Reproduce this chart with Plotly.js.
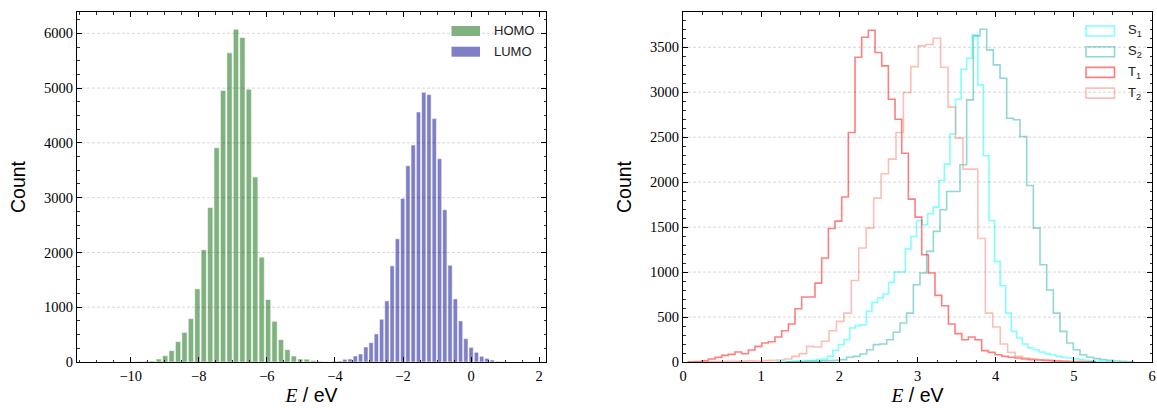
<!DOCTYPE html>
<html>
<head>
<meta charset="utf-8">
<script src="https://cdn.plot.ly/plotly-3.0.1.min.js"></script>
<style>
  html, body { margin: 0; padding: 0; background: #fff; }
  #chart { width: 1157px; height: 408px; }
</style>
</head>
<body>
<div id="chart"></div>
<script>
// ---- Frontier orbital energies (bin centres in eV, counts) ----
const homoE = [-9.934, -9.745, -9.556, -9.367, -9.178, -8.989, -8.800, -8.611, -8.422, -8.233,
  -8.044, -7.855, -7.666, -7.477, -7.288, -7.099, -6.910, -6.721, -6.532, -6.343,
  -6.154, -5.965, -5.776, -5.587, -5.398, -5.209, -5.020, -4.831, -4.642, -4.453, -4.264];
const homoCount = [4, 10, 12, 18, 55, 116, 207, 372, 542, 792,
  1335, 2048, 2822, 3912, 4955, 5643, 6076, 5923, 4979, 3376,
  1913, 1140, 743, 408, 225, 110, 55, 52, 28, 14, 6];

const lumoE = [-4.022, -3.867, -3.712, -3.558, -3.403, -3.249, -3.094, -2.939, -2.785, -2.630,
  -2.475, -2.321, -2.166, -2.011, -1.857, -1.702, -1.547, -1.392, -1.238, -1.083,
  -0.928, -0.774, -0.619, -0.464, -0.310, -0.155, 0.000, 0.155, 0.310, 0.464,
  0.619, 0.774, 0.928];
const lumoCount = [12, 18, 49, 55, 110, 146, 274, 353, 512, 780,
  1115, 1755, 2249, 2986, 3583, 3961, 4564, 4924, 4881, 4443,
  3711, 2779, 1767, 1152, 750, 427, 268, 177, 104, 67,
  37, 12, 6];

// ---- Excited-state energies (bin edges in eV, counts per bin) ----
const s1Edges = [1.205, 1.276, 1.347, 1.419, 1.490, 1.561, 1.633, 1.704, 1.775, 1.847,
  1.918, 1.989, 2.061, 2.132, 2.203, 2.274, 2.346, 2.417, 2.488, 2.560,
  2.631, 2.702, 2.774, 2.845, 2.916, 2.987, 3.059, 3.130, 3.201, 3.273,
  3.344, 3.415, 3.487, 3.558, 3.629, 3.700, 3.772, 3.843, 3.914, 3.986,
  4.057, 4.128, 4.200, 4.271, 4.342, 4.413, 4.485, 4.556, 4.627, 4.699,
  4.770, 4.841, 4.912, 4.984, 5.055, 5.126, 5.198, 5.269, 5.340, 5.411, 5.483];
const s1Count = [3, 4, 6, 8, 11, 15, 18, 26, 33, 63,
  130, 193, 248, 378, 404, 415, 563, 663, 711, 756,
  885, 1000, 1000, 1256, 1396, 1574, 1526, 1648, 1722, 2019,
  2200, 2537, 2922, 3256, 3378, 3637, 3082, 2293, 1574, 1119,
  848, 544, 341, 267, 200, 156, 137, 111, 93, 81,
  63, 52, 44, 33, 26, 18, 12, 8, 5, 3];

const s2Edges = [1.326, 1.411, 1.497, 1.582, 1.667, 1.753, 1.838, 1.923, 2.008, 2.094,
  2.179, 2.264, 2.350, 2.435, 2.520, 2.606, 2.691, 2.776, 2.861, 2.947,
  3.032, 3.117, 3.203, 3.288, 3.373, 3.459, 3.544, 3.629, 3.714, 3.800,
  3.885, 3.970, 4.056, 4.141, 4.226, 4.311, 4.397, 4.482, 4.567, 4.653,
  4.738, 4.823, 4.909, 4.994, 5.079, 5.165, 5.250, 5.335, 5.420, 5.506,
  5.591, 5.676, 5.762];
const s2Count = [3, 4, 5, 7, 9, 12, 15, 18, 26, 52,
  63, 89, 137, 193, 200, 248, 330, 433, 544, 859,
  989, 1230, 1452, 1693, 1896, 1896, 2193, 2915, 3626, 3700,
  3471, 3304, 3156, 2711, 2693, 2507, 1963, 1489, 1082, 800,
  544, 341, 211, 137, 81, 52, 37, 26, 18, 11,
  7, 3];

const t1Edges = [0.068, 0.154, 0.239, 0.324, 0.410, 0.495, 0.580, 0.665, 0.751, 0.836,
  0.921, 1.007, 1.092, 1.177, 1.262, 1.348, 1.433, 1.518, 1.604, 1.689,
  1.774, 1.860, 1.945, 2.030, 2.115, 2.201, 2.286, 2.371, 2.457, 2.542,
  2.627, 2.713, 2.798, 2.883, 2.969, 3.054, 3.139, 3.224, 3.310, 3.395,
  3.480, 3.566, 3.651, 3.736, 3.821, 3.907, 3.992, 4.077, 4.163, 4.248,
  4.333, 4.418, 4.504, 4.589, 4.674, 4.760, 4.845, 4.930, 5.015, 5.101,
  5.186, 5.271];
const t1Count = [2, 5, 14, 33, 51, 74, 85, 111, 92, 133,
  174, 211, 226, 278, 348, 422, 592, 722, 722, 877,
  1156, 1485, 1567, 1834, 2552, 3389, 3611, 3689, 3441, 3293,
  2922, 2700, 2322, 1811, 1611, 1193, 989, 741, 626, 422,
  315, 248, 278, 248, 126, 107, 81, 63, 52, 44,
  33, 26, 22, 18, 15, 11, 8, 6, 4, 3, 2];

const t2Edges = [0.154, 0.249, 0.344, 0.440, 0.535, 0.630, 0.725, 0.820, 0.916, 1.011,
  1.106, 1.201, 1.296, 1.392, 1.487, 1.582, 1.677, 1.773, 1.868, 1.963,
  2.058, 2.153, 2.248, 2.344, 2.439, 2.534, 2.629, 2.725, 2.820, 2.915,
  3.010, 3.105, 3.201, 3.296, 3.391, 3.487, 3.582, 3.677, 3.772, 3.868,
  3.963, 4.058, 4.153, 4.249, 4.344, 4.439, 4.534, 4.630, 4.725, 4.820,
  4.915, 5.011, 5.106];
const t2Count = [3, 3, 5, 5, 7, 7, 10, 12, 10, 15,
  18, 22, 33, 63, 93, 174, 167, 230, 348, 452,
  544, 907, 1267, 1489, 1822, 2093, 2256, 2552, 2997, 3285,
  3515, 3530, 3600, 3278, 2834, 2489, 2145, 2145, 1374, 544,
  389, 200, 107, 63, 44, 33, 25, 18, 12, 8,
  5, 3];

// ---- Page geometry ----
const W = 1157, H = 408;
const M = { l: 77, r: 5, t: 12, b: 46 };
const PW = W - M.l - M.r, PH = H - M.t - M.b;
const fx = x => (x - M.l) / PW;          // page px -> paper x
const fy = y => (H - M.b - y) / PH;      // page px -> paper y

const colors = {
  homo: 'rgb(127,178,127)',
  lumo: 'rgb(127,127,198)',
  s1: 'rgba(0,255,255,0.5)',
  s2: 'rgba(32,178,170,0.5)',
  t1: 'rgba(255,0,0,0.5)',
  t2: 'rgba(250,128,114,0.5)'
};

// Outline of a step histogram from bin edges and counts
function stepTrace(edges, counts, color, xa, ya) {
  const x = [edges[0]], y = [0];
  counts.forEach((c, i) => { x.push(edges[i]); y.push(c); });
  x.push(edges[edges.length - 1]); y.push(0);
  return {
    type: 'scatter', mode: 'lines', x, y, xaxis: xa, yaxis: ya,
    line: { color, width: 1.6, shape: 'hv' }, showlegend: false, hoverinfo: 'skip'
  };
}

const traces = [
  { type: 'bar', x: homoE, y: homoCount, width: 0.155, xaxis: 'x', yaxis: 'y',
    marker: { color: colors.homo, line: { color: 'rgba(255,255,255,0.55)', width: 1 } },
    showlegend: false },
  { type: 'bar', x: lumoE, y: lumoCount, width: 0.127, xaxis: 'x', yaxis: 'y',
    marker: { color: colors.lumo, line: { color: 'rgba(255,255,255,0.55)', width: 1 } },
    showlegend: false },
  stepTrace(s1Edges, s1Count, colors.s1, 'x2', 'y2'),
  stepTrace(s2Edges, s2Count, colors.s2, 'x2', 'y2'),
  stepTrace(t1Edges, t1Count, colors.t1, 'x2', 'y2'),
  stepTrace(t2Edges, t2Count, colors.t2, 'x2', 'y2')
];

const tickFont = { family: 'Liberation Serif, serif', size: 14.5, color: '#000' };
const titleFont = { family: 'Liberation Sans, Arial, sans-serif', size: 19.5, color: '#000' };
const eLabel = '<span style="font-family:Liberation Serif"><i>E</i></span> / eV';

function axis(extra) {
  return Object.assign({
    showline: true, linecolor: '#000', linewidth: 1.2, mirror: 'allticks',
    ticks: 'inside', ticklen: 5, tickwidth: 1, tickcolor: '#000',
    tickfont: tickFont, zeroline: false, showgrid: false, layer: 'above traces'
  }, extra);
}
const minorTicks = dt => ({ ticks: 'inside', ticklen: 2.5, tickwidth: 0.8, tickcolor: '#000', dtick: dt });

const layout = {
  width: W, height: H, margin: M,
  paper_bgcolor: '#fff', plot_bgcolor: '#fff',
  barmode: 'overlay', showlegend: false,
  xaxis: axis({ domain: [0, fx(546)], range: [-11.58, 2.2], dtick: 2, tick0: 0,
    minor: minorTicks(0.5),
    title: { text: eLabel, font: titleFont, standoff: 4 } }),
  yaxis: axis({ domain: [0, 1], range: [0, 6389], dtick: 1000,
    minor: minorTicks(250),
    title: { text: 'Count', font: titleFont, standoff: 13 } }),
  xaxis2: axis({ domain: [fx(683), 1], range: [0, 6], dtick: 1, anchor: 'y2',
    minor: minorTicks(0.25),
    title: { text: eLabel, font: titleFont, standoff: 4 } }),
  yaxis2: axis({ domain: [0, 1], range: [0, 3892], dtick: 500, anchor: 'x2',
    minor: minorTicks(100),
    title: { text: 'Count', font: titleFont, standoff: 13 } }),
  shapes: [],
  annotations: []
};

// Dashed horizontal grid at every major count tick, drawn over the marks
function gridLines(xref, yref, step, top) {
  for (let v = step; v < top; v += step) {
    layout.shapes.push({
      type: 'line', xref: xref + ' domain', yref, x0: 0, x1: 1, y0: v, y1: v,
      layer: 'above', line: { color: 'rgba(0,0,0,0.2)', width: 0.8, dash: '3px,2px' }
    });
  }
}
gridLines('x', 'y', 1000, 6389);
gridLines('x2', 'y2', 500, 3892);

// Legends drawn as patches + labels
const legFont = { family: 'Liberation Sans, Arial, sans-serif', size: 13, color: '#222' };
function legendEntry(x0, yc, label, color, filled) {
  layout.shapes.push({
    type: 'rect', xref: 'paper', yref: 'paper',
    x0: fx(x0), x1: fx(x0 + 28.5), y0: fy(yc + 5), y1: fy(yc - 5),
    line: { color: filled ? 'rgba(0,0,0,0)' : color, width: filled ? 0 : 1.6 },
    fillcolor: filled ? color : 'rgba(0,0,0,0)'
  });
  layout.annotations.push({
    xref: 'paper', yref: 'paper', x: fx(x0 + 40), y: fy(yc),
    xanchor: 'left', yanchor: 'middle', showarrow: false, text: label, font: legFont
  });
}
legendEntry(451.5, 31, 'HOMO', colors.homo, true);
legendEntry(451.5, 51.7, 'LUMO', colors.lumo, true);
legendEntry(1086, 31, 'S<sub>1</sub>', colors.s1, false);
legendEntry(1086, 51.7, 'S<sub>2</sub>', colors.s2, false);
legendEntry(1086, 72.4, 'T<sub>1</sub>', colors.t1, false);
legendEntry(1086, 93.1, 'T<sub>2</sub>', colors.t2, false);

Plotly.newPlot('chart', traces, layout, { displayModeBar: false, staticPlot: true });
</script>
</body>
</html>
